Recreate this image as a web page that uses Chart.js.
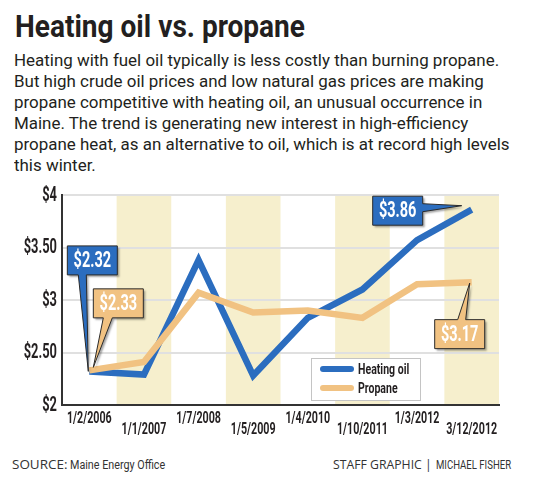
<!DOCTYPE html>
<html>
<head>
<meta charset="utf-8">
<script src="https://cdn.jsdelivr.net/npm/chart.js@4.4.1/dist/chart.umd.min.js"></script>
<style>
    body { margin: 0; background: #fff; width: 540px; height: 482px; position: relative; overflow: hidden; color: #231f20; }
    .fit { position: absolute; white-space: nowrap; transform-origin: 0 0; }
    #title { left: 15px; top: 10px; font: bold 32px/32px Roboto, sans-serif; }
    #intro { left: 14px; top: 50px; font: 17px/21px Roboto, sans-serif; }
    .foot { top: 459px; font: 12px/12px "Open Sans", sans-serif; color: #333; }
    #chartBox { position: absolute; left: 0; top: 185px; width: 510px; height: 255px; }
</style>
</head>
<body>
<div id="title" class="fit">Heating oil vs. propane</div>
<div id="intro" class="fit">Heating with fuel oil typically is less costly than burning propane.<br>But high crude oil prices and low natural gas prices are making<br>propane competitive with heating oil, an unusual occurrence in<br>Maine. The trend is generating new interest in high-efficiency<br>propane heat, as an alternative to oil, which is at record high levels<br>this winter.</div>
<div id="chartBox"><canvas id="chartFuel"></canvas></div>
<div id="f1" class="fit foot">SOURCE:</div>
<div id="f2" class="fit foot" style="font-family: Roboto, sans-serif">Maine Energy Office</div>
<div id="f3" class="fit foot">STAFF GRAPHIC |</div>
<div id="f4" class="fit foot" style="font-family: Roboto, sans-serif">MICHAEL FISHER</div>

<script>
var dates = ['1/2/2006', '1/1/2007', '1/7/2008', '1/5/2009', '1/4/2010', '1/10/2011', '1/3/2012', '3/12/2012'];
var heatingOil = [2.32, 2.29, 3.38, 2.28, 2.83, 3.10, 3.57, 3.86];
var propane = [2.33, 2.41, 3.07, 2.88, 2.90, 2.83, 3.15, 3.17];
var yTicks = [2, 2.5, 3, 3.5, 4];
var yTickLabels = ['$2', '$2.50', '$3', '$3.50', '$4'];

var blue = '#2b6dbf';
var tan = '#f1c282';

// squeeze html text to the width it has in the print graphic
function fit(id, left, width) {
    var el = document.getElementById(id);
    el.style.left = left + 'px';
    el.style.transform = 'scaleX(' + (width / el.offsetWidth) + ')';
}
fit('title', 15, 290);
fit('intro', 14, 496);
fit('f1', 12, 55);
fit('f2', 70, 95);
fit('f3', 333, 99);
fit('f4', 436, 75);

// condensed bold text, like the paper's font
function narrowText(ctx, text, x, y, align, size, color, sx) {
    ctx.save();
    ctx.translate(x, y);
    ctx.scale(sx || 0.7, 1);
    ctx.font = 'bold ' + size + 'px Roboto, sans-serif';
    ctx.fillStyle = color;
    ctx.textAlign = align;
    ctx.textBaseline = 'middle';
    ctx.fillText(text, 0, 0);
    ctx.restore();
}

// callouts: box offset from the point, and where the tail leaves the box
var callouts = [
    { ds: 0, idx: 0, dx: 3, dy: -111, side: 'bottom', t1: -14, t2: -6, tipDx: -1, tipDy: 0 },
    { ds: 1, idx: 0, dx: 29, dy: -67, side: 'bottom', t1: -15, t2: -6, tipDx: 4, tipDy: -3 },
    { ds: 0, idx: 7, dx: -74, dy: 1, side: 'right', t1: -7, t2: 1, tipDx: -10, tipDy: -4 },
    { ds: 1, idx: 7, dx: -12, dy: 52, side: 'top', t1: -2, t2: 6, tipDx: -2, tipDy: 1 }
];

var bandPlugin = {
    id: 'bands',
    beforeDraw: function(chart) {
        var ctx = chart.ctx, area = chart.chartArea, x = chart.scales.x;
        var w = (area.right - area.left) / dates.length;
        ctx.save();
        ctx.fillStyle = '#f6efcd';
        for (var i = 1; i < dates.length; i += 2) {
            var cx = x.getPixelForValue(i);
            ctx.fillRect(cx - w / 2, area.top, w, area.bottom - area.top);
        }
        ctx.restore();
    }
};

var tickPlugin = {
    id: 'narrowTicks',
    afterDraw: function(chart) {
        var ctx = chart.ctx, area = chart.chartArea;
        var x = chart.scales.x, y = chart.scales.y;
        dates.forEach(function(d, i) {
            narrowText(ctx, d, x.getPixelForValue(i), area.bottom + (i % 2 ? 25 : 14), 'center', 17, '#231f20', 0.63);
        });
        yTicks.forEach(function(v, i) {
            narrowText(ctx, yTickLabels[i], area.left - 5, y.getPixelForValue(v) + 1, 'right', 19.5, '#231f20', 0.66);
        });
    }
};

var calloutPlugin = {
    id: 'callouts',
    afterDatasetsDraw: function(chart) {
        var ctx = chart.ctx;
        callouts.forEach(function(c) {
            var ds = chart.data.datasets[c.ds];
            var pt = chart.getDatasetMeta(c.ds).data[c.idx];
            var bw = 50, bh = 29;
            var cx = pt.x + c.dx, cy = pt.y + c.dy;
            var l = cx - bw / 2, r = cx + bw / 2, t = cy - bh / 2, b = cy + bh / 2;
            var tx = pt.x + c.tipDx, ty = pt.y + c.tipDy;
            ctx.save();
            ctx.beginPath();
            ctx.moveTo(l, t);
            if (c.side == 'top') {
                ctx.lineTo(cx + c.t1, t); ctx.lineTo(tx, ty); ctx.lineTo(cx + c.t2, t);
            }
            ctx.lineTo(r, t);
            if (c.side == 'right') {
                ctx.lineTo(r, cy + c.t1); ctx.lineTo(tx, ty); ctx.lineTo(r, cy + c.t2);
            }
            ctx.lineTo(r, b);
            if (c.side == 'bottom') {
                ctx.lineTo(cx + c.t2, b); ctx.lineTo(tx, ty); ctx.lineTo(cx + c.t1, b);
            }
            ctx.lineTo(l, b);
            ctx.closePath();
            ctx.shadowColor = 'rgba(0,0,0,0.35)';
            ctx.shadowOffsetX = 2;
            ctx.shadowOffsetY = 2;
            ctx.shadowBlur = 2;
            ctx.fillStyle = ds.borderColor;
            ctx.fill();
            ctx.shadowColor = 'transparent';
            ctx.strokeStyle = '#2a2a2a';
            ctx.lineWidth = 1;
            ctx.stroke();
            ctx.restore();
            narrowText(ctx, '$' + ds.data[c.idx].toFixed(2), cx, cy + 1, 'center', 22, '#fff', 0.66);
        });
    }
};

var legendPlugin = {
    id: 'boxLegend',
    afterDatasetsDraw: function(chart) {
        var ctx = chart.ctx, area = chart.chartArea;
        var lx = area.left + 249, ly = area.bottom - 47;
        ctx.save();
        ctx.fillStyle = '#fff';
        ctx.fillRect(lx, ly, 109, 42);
        ctx.strokeStyle = '#c4c4c4';
        ctx.lineWidth = 1;
        ctx.strokeRect(lx + 0.5, ly + 0.5, 109, 42);
        chart.data.datasets.forEach(function(ds, i) {
            var y = ly + 11 + i * 19;
            ctx.strokeStyle = ds.borderColor;
            ctx.lineWidth = 6;
            ctx.lineCap = 'round';
            ctx.beginPath();
            ctx.moveTo(lx + 12, y);
            ctx.lineTo(lx + 40, y);
            ctx.stroke();
            narrowText(ctx, ds.label, lx + 47, y + 1, 'left', 15.5, '#231f20', 0.68);
        });
        ctx.restore();
    }
};

var ctx = document.getElementById('chartFuel').getContext('2d');
var chart = new Chart(ctx, {
    type: 'line',
    data: {
        labels: dates,
        datasets: [{
            label: 'Heating oil',
            data: heatingOil,
            borderColor: blue,
            backgroundColor: blue,
            borderWidth: 6.5,
            order: 1
        }, {
            label: 'Propane',
            data: propane,
            borderColor: tan,
            backgroundColor: tan,
            borderWidth: 6.5,
            order: 0
        }]
    },
    options: {
        responsive: true,
        maintainAspectRatio: false,
        animation: false,
        layout: { padding: { top: 10, right: 11, left: 0, bottom: 0 } },
        elements: {
            point: { radius: 0 },
            line: { tension: 0, borderJoinStyle: 'miter' }
        },
        plugins: {
            legend: { display: false },
            tooltip: { enabled: false }
        },
        scales: {
            x: {
                offset: true,
                grid: { display: false },
                border: { display: true, color: '#333', width: 2 },
                ticks: { display: false },
                afterFit: function(scale) { scale.height = 35; }
            },
            y: {
                min: 2,
                max: 4,
                afterBuildTicks: function(scale) {
                    scale.ticks = yTicks.map(function(v) { return { value: v }; });
                },
                grid: { color: '#e0e0e0', lineWidth: 2, drawTicks: false },
                border: { display: true, color: '#333', width: 2 },
                ticks: { display: false },
                afterFit: function(scale) { scale.width = 62; }
            }
        }
    },
    plugins: [bandPlugin, legendPlugin, calloutPlugin, tickPlugin]
});
</script>
</body>
</html>
